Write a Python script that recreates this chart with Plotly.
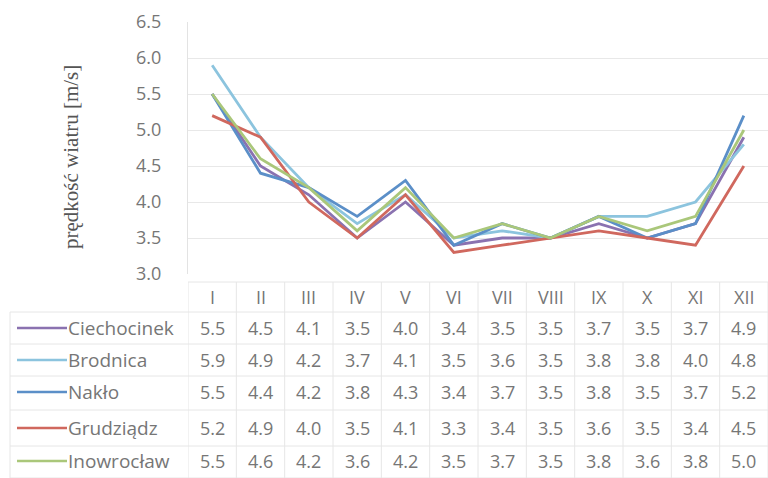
import plotly.graph_objects as go

months = ["I", "II", "III", "IV", "V", "VI", "VII", "VIII", "IX", "X", "XI", "XII"]
ciechocinek = [5.5, 4.5, 4.1, 3.5, 4.0, 3.4, 3.5, 3.5, 3.7, 3.5, 3.7, 4.9]
brodnica = [5.9, 4.9, 4.2, 3.7, 4.1, 3.5, 3.6, 3.5, 3.8, 3.8, 4.0, 4.8]
naklo = [5.5, 4.4, 4.2, 3.8, 4.3, 3.4, 3.7, 3.5, 3.8, 3.5, 3.7, 5.2]
grudziadz = [5.2, 4.9, 4.0, 3.5, 4.1, 3.3, 3.4, 3.5, 3.6, 3.5, 3.4, 4.5]
inowroclaw = [5.5, 4.6, 4.2, 3.6, 4.2, 3.5, 3.7, 3.5, 3.8, 3.6, 3.8, 5.0]
y_ticks = [3.0, 3.5, 4.0, 4.5, 5.0, 5.5, 6.0, 6.5]

series = [
    ("Ciechocinek", ciechocinek, "#8a72b0"),
    ("Brodnica", brodnica, "#8cc4de"),
    ("Nakło", naklo, "#5b8fc8"),
    ("Grudziądz", grudziadz, "#d0685e"),
    ("Inowrocław", inowroclaw, "#aac77a"),
]

W, H = 768, 478
def px(x):
    return x / W
def py(y):
    return 1 - y / H

fig = go.Figure()
for name, vals, col in series:
    fig.add_trace(go.Scatter(x=list(range(len(months))), y=vals, mode="lines",
                             name=name, line=dict(color=col, width=2.8), showlegend=False,
                             hoverinfo="skip"))

grey = "#767676"
FONT = "Open Sans, Lato, sans-serif"
tfont = dict(family=FONT, size=18, color=grey)
ann = []
shapes = []

row_y = [328, 360, 392, 428, 461]
for i, m in enumerate(months):
    ann.append(dict(x=i, y=py(297), xref="x", yref="paper", text=m, showarrow=False,
                    font=tfont, xanchor="center", yanchor="middle"))
for r, (name, vals, col) in enumerate(series):
    yy = py(row_y[r])
    ann.append(dict(x=px(66), y=yy, xref="paper", yref="paper", text=name, showarrow=False,
                    font=dict(family=FONT, size=19, color=grey),
                    xanchor="left", yanchor="middle"))
    shapes.append(dict(type="line", xref="paper", yref="paper", x0=px(17), x1=px(67),
                       y0=yy, y1=yy, line=dict(color=col, width=2.5)))
    for i, v in enumerate(vals):
        ann.append(dict(x=i, y=yy, xref="x", yref="paper", text=f"{v:.1f}", showarrow=False,
                        font=tfont, xanchor="center", yanchor="middle"))

gcol = "#e6e6e6"
for k in range(13):
    shapes.append(dict(type="line", xref="x", yref="paper", x0=k - 0.5, x1=k - 0.5,
                       y0=py(478), y1=py(282), line=dict(color=gcol, width=1)))
for b in [282, 312, 344, 376, 410, 446, 478]:
    x0 = px(188) if b == 282 else px(10)
    shapes.append(dict(type="line", xref="paper", yref="paper", x0=x0, x1=1,
                       y0=py(b), y1=py(b), line=dict(color=gcol, width=1)))
shapes.append(dict(type="line", xref="paper", yref="paper", x0=px(10), x1=px(10),
                   y0=py(478), y1=py(312), line=dict(color=gcol, width=1)))

ann.append(dict(x=px(71), y=py(157), xref="paper", yref="paper", text="prędkość wiatru [m/s]",
                textangle=-90, showarrow=False,
                font=dict(family="Liberation Serif, DejaVu Serif, serif", size=21, color="#555555"),
                xanchor="center", yanchor="middle"))

fig.update_layout(
    width=W, height=H, margin=dict(l=0, r=0, t=0, b=0),
    paper_bgcolor="white", plot_bgcolor="white",
    xaxis=dict(domain=[px(188), 1], range=[-0.5, 11.5], showticklabels=False,
               showgrid=False, zeroline=False, showline=False),
    yaxis=dict(domain=[py(274), py(22)], range=[3.0, 6.5], tickvals=y_ticks,
               ticktext=[f"{t:.1f}" for t in y_ticks],
               tickfont=dict(family=FONT, size=18, color=grey),
               showgrid=True, gridcolor="#e8e8e8", gridwidth=1, zeroline=False,
               showline=True, linecolor="#e3e3e3", ticks="", ticklabelstandoff=22,
               automargin=False),
    annotations=ann, shapes=shapes,
)

fig.write_html("out.html", config={"displayModeBar": False},
               post_script="document.body.style.margin='0';")
